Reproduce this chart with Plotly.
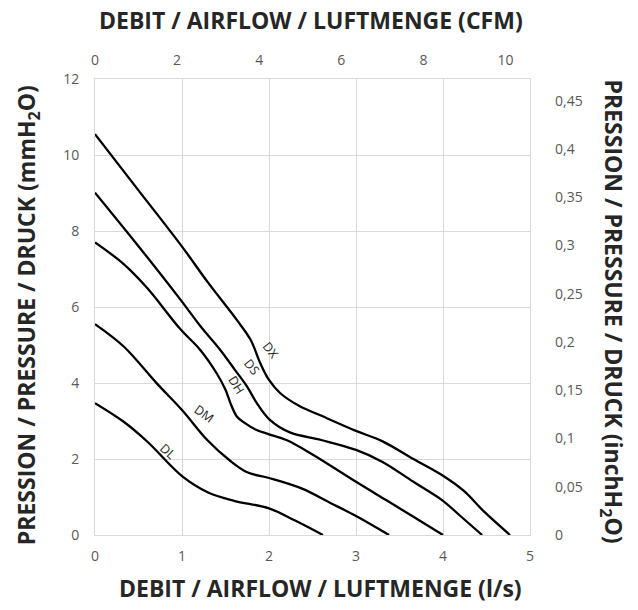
import plotly.graph_objects as go

# Fan curves: airflow (l/s) vs static pressure (mmH2O)
dx_flow = [0, 0.5, 1.0, 1.3, 1.63, 1.79, 1.9, 2.0, 2.13, 2.36, 2.59, 3.0, 3.3, 3.66, 4.0, 4.24, 4.47, 4.77]
dx_pres = [10.55, 9.07, 7.59, 6.64, 5.66, 5.13, 4.52, 4.08, 3.73, 3.38, 3.15, 2.74, 2.47, 2.0, 1.56, 1.16, 0.62, 0]

ds_flow = [0, 0.5, 0.98, 1.21, 1.44, 1.61, 1.75, 1.86, 2.01, 2.24, 2.6, 3.0, 3.3, 3.66, 4.0, 4.2, 4.45]
ds_pres = [9.01, 7.6, 6.2, 5.5, 4.87, 4.34, 3.9, 3.47, 3.03, 2.7, 2.5, 2.24, 1.93, 1.4, 0.9, 0.5, 0]

dh_flow = [0, 0.33, 0.6, 0.98, 1.21, 1.40, 1.50, 1.56, 1.63, 1.72, 1.85, 2.0, 2.2, 2.5, 3.0, 3.36, 3.66, 4.0]
dh_pres = [7.7, 7.13, 6.5, 5.42, 4.87, 4.25, 3.82, 3.45, 3.12, 2.95, 2.77, 2.65, 2.5, 2.12, 1.4, 0.9, 0.48, 0]

dm_flow = [0, 0.33, 0.71, 1.0, 1.29, 1.55, 1.75, 2.0, 2.38, 2.7, 3.0, 3.38]
dm_pres = [5.55, 4.96, 3.99, 3.29, 2.5, 1.96, 1.65, 1.5, 1.22, 0.85, 0.5, 0]

dl_flow = [0, 0.33, 0.6, 1.0, 1.3, 1.6, 2.0, 2.3, 2.62]
dl_pres = [3.47, 2.98, 2.46, 1.55, 1.12, 0.9, 0.7, 0.38, 0]

curve_names = ["DX", "DS", "DH", "DM", "DL"]
curve_flows = [dx_flow, ds_flow, dh_flow, dm_flow, dl_flow]
curve_pres = [dx_pres, ds_pres, dh_pres, dm_pres, dl_pres]

# Curve label positions (l/s, mmH2O) and text angles
label_x = [2.02, 1.81, 1.62, 1.25, 0.84]
label_y = [4.85, 4.42, 3.95, 3.2, 2.2]
label_angle = [52, 52, 58, 36, 42]

# Unit conversions for the secondary axes
LS_TO_CFM = 2.11888
MM_TO_IN = 1 / 25.4
x_max = 5
y_max = 12

grid_col = "#d9d9d9"
tick_col = "#595959"
title_col = "#262626"
font_fam = "Open Sans"

fig = go.Figure()
for name, fx, fy in zip(curve_names, curve_flows, curve_pres):
    fig.add_trace(go.Scatter(
        x=fx, y=fy, mode="lines", name=name,
        line=dict(color="black", width=2.3, shape="spline", smoothing=1.0),
        showlegend=False, hoverinfo="skip",
    ))

# Invisible trace bound to the CFM / inchH2O axes so they render
fig.add_trace(go.Scatter(
    x=[0, x_max * LS_TO_CFM], y=[0, y_max * MM_TO_IN], xaxis="x2", yaxis="y2",
    mode="markers", marker=dict(opacity=0), showlegend=False, hoverinfo="skip",
))

for name, lx, ly, ang in zip(curve_names, label_x, label_y, label_angle):
    fig.add_annotation(
        x=lx, y=ly, xref="x", yref="y", text=name, showarrow=False,
        textangle=ang, font=dict(family=font_fam, size=12.5, color=title_col),
    )

tick_font = dict(family=font_fam, size=14, color=tick_col)
title_font = dict(family=font_fam, size=23, color=title_col)

fig.update_layout(
    width=638, height=610,
    margin=dict(l=94.7, r=108.3, t=79.3, b=75, pad=0),
    paper_bgcolor="white", plot_bgcolor="white",
    separators=", ",
    xaxis=dict(
        range=[0, x_max], dtick=1, tick0=0, showgrid=True, gridcolor=grid_col,
        gridwidth=1, zeroline=False, showline=True, linecolor=grid_col, mirror=True,
        ticks="", tickfont=tick_font, ticklabelstandoff=8, fixedrange=True,
    ),
    yaxis=dict(
        range=[0, y_max], dtick=2, tick0=0, showgrid=True, gridcolor=grid_col,
        gridwidth=1, zeroline=False, showline=True, linecolor=grid_col, mirror=True,
        ticks="", tickfont=tick_font, ticklabelstandoff=12, fixedrange=True,
    ),
    xaxis2=dict(
        range=[0, x_max * LS_TO_CFM], dtick=2, tick0=0, overlaying="x", side="top",
        showgrid=False, zeroline=False, showline=False, ticks="",
        tickfont=tick_font, ticklabelstandoff=10, fixedrange=True,
    ),
    yaxis2=dict(
        range=[0, y_max * MM_TO_IN], dtick=0.05, tick0=0, overlaying="y", side="right",
        showgrid=False, zeroline=False, showline=False, ticks="",
        tickfont=tick_font, ticklabelstandoff=24, fixedrange=True,
    ),
)

titles = [
    ("<b>DEBIT / AIRFLOW / LUFTMENGE (CFM)</b>", 311, 20, 0),
    ("<b>DEBIT / AIRFLOW / LUFTMENGE (l/s)</b>", 320, 588, 0),
    ("<b>PRESSION / PRESSURE / DRUCK (mmH<sub>2</sub>O)</b>", 28, 315, -90),
    ("<b>PRESSION / PRESSURE / DRUCK (inchH<sub>2</sub>O)</b>", 612, 312, 90),
]
plot_left, plot_bottom, plot_w, plot_h = 94.7, 535, 435, 455.7
for text, px, py, ang in titles:
    fig.add_annotation(
        text=text, xref="paper", yref="paper",
        x=(px - plot_left) / plot_w, y=(plot_bottom - py) / plot_h,
        xanchor="center", yanchor="middle", showarrow=False,
        textangle=ang, font=title_font,
    )

fig.write_html("out.html")
